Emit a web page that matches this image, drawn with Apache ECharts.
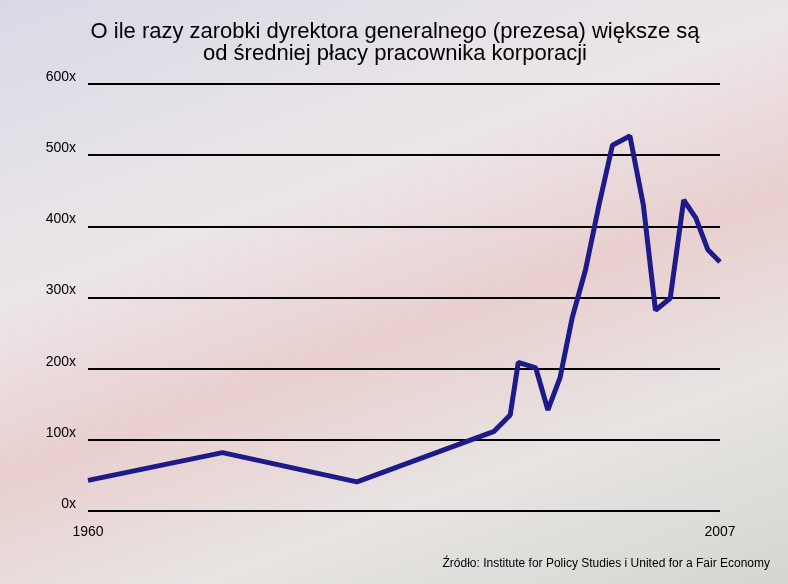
<!DOCTYPE html>
<html><head><meta charset="utf-8">
<script src="https://cdn.jsdelivr.net/npm/echarts@6/dist/echarts.min.js"></script>
<style>html,body{margin:0;padding:0;}#c{width:788px;height:584px;background:linear-gradient(160deg,#d9d9e6 0%,#ece6e8 35%,#e9cfcf 55%,#e7e4e2 75%,#d6d6d0 100%);}</style>
</head><body><div id="c"></div>
<script>
const years = [1960,1970,1980,1990.2,1991.4,1992,1993.3,1994.2,1995.1,1996,1997,1998,1999,2000.3,2001.3,2002.2,2003.3,2004.3,2005.2,2006.1,2007];
const ratios = [43,82,41,112,135,209,201,142,187,271,339,430,514,527,430,282,299,437,412,367,350];
const yTicks = [0,100,200,300,400,500,600];
const xLabels = [1960,2007];
const chart = echarts.init(document.getElementById('c'));
chart.setOption({
  backgroundColor:'transparent',
  title:{text:'O ile razy zarobki dyrektora generalnego (prezesa) większe są\nod średniej płacy pracownika korporacji',left:390,textAlign:'center',top:16,
    textStyle:{fontFamily:'Liberation Sans, Arial',fontSize:22,fontWeight:'normal',color:'#000',lineHeight:22}},
  graphic:[{type:'text',right:18,bottom:14,style:{text:'Źródło: Institute for Policy Studies i United for a Fair Economy',font:'12px Liberation Sans, Arial',fill:'#000'}}],
  grid:{left:88,right:68,top:84,bottom:73},
  xAxis:{type:'value',min:1960,max:2007,axisLine:{show:false},axisTick:{show:false},splitLine:{show:false},
    axisLabel:{customValues:xLabels,fontFamily:'Liberation Sans, Arial',fontSize:14,color:'#000',margin:14,
      formatter:v=>String(v)}},
  yAxis:{type:'value',min:0,max:600,interval:100,axisLine:{show:false},axisTick:{show:false},
    splitLine:{lineStyle:{color:'#000',width:2}},
    axisLabel:{formatter:v=>v+'x',fontFamily:'Liberation Sans, Arial',fontSize:14,color:'#000',margin:12,verticalAlign:'bottom'}},
  series:[{type:'line',data:years.map((y,i)=>[y,ratios[i]]),symbol:'none',lineStyle:{color:'#1f1a8a',width:5},z:5}]
});
</script></body></html>
